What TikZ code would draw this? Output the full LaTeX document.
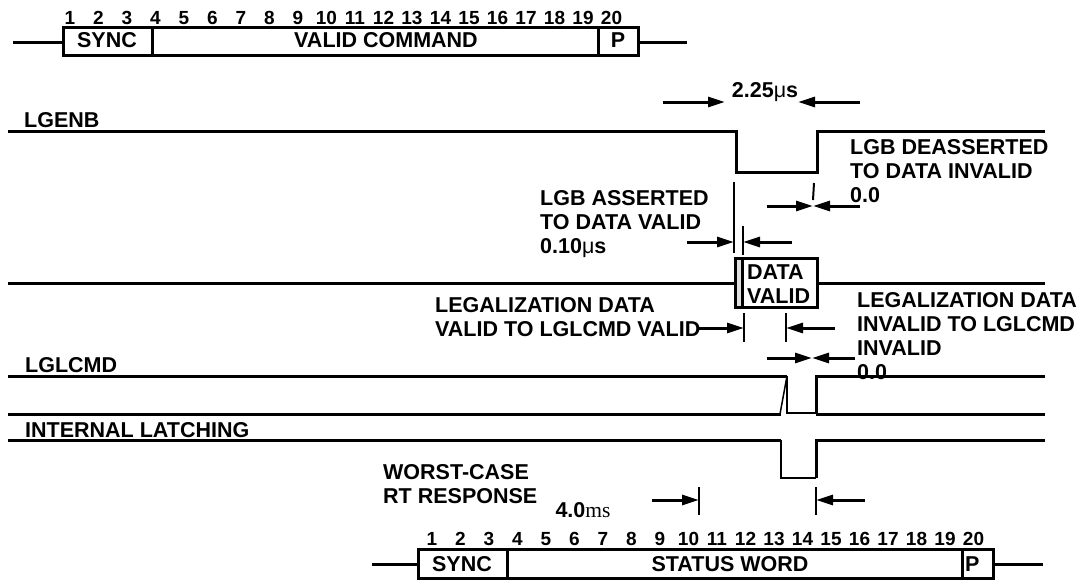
\documentclass[tikz,border=0pt]{standalone}
\usepackage{fontspec}
\setmainfont{Liberation Sans}
\newfontfamily\timesfont{Liberation Serif}
\usetikzlibrary{arrows.meta}
\tikzset{
  sig/.style={line width=3pt},
  thinsig/.style={line width=1.5pt},
  dimarr/.style={line width=3pt,-{Triangle[length=17pt,width=10pt]}},
  lbl/.style={font=\bfseries\fontsize{21.5}{24}\selectfont, inner sep=0pt},
  mlbl/.style={lbl, align=left, anchor=north west},
  bitno/.style={font=\bfseries\fontsize{19}{20}\selectfont, inner sep=0pt, anchor=base}
}
\begin{document}
\begin{tikzpicture}[x=1pt,y=-1pt]
\useasboundingbox (0,0) rectangle (1088,582);
\foreach \i in {1,...,20}
  \node[bitno] (cw\i) at ({70+28.5*(\i-1)},24) {\i};
\draw [sig] (63,27) rectangle (638,55);
\draw [sig] (152,27) -- (152,55);
\draw [sig] (598,27) -- (598,55);
\draw [sig] (13,42) -- (63,42);
\draw [sig] (638,42) -- (687,42);
\node[lbl] (cwsync) at (107,40) {SYNC};
\node[lbl] (cwcmd) at (386,40) {VALID COMMAND};
\node[lbl] (cwp) at (618,40) {P};
\node[lbl, anchor=base] (tdur) at (765,97) {2.25\mdseries μ\bfseries s};
\coordinate (d1) at (663,102); \coordinate (d2) at (725,102);
\coordinate (d3) at (860,102); \coordinate (d4) at (798,102);
\draw [dimarr] (d1) -- (d2);
\draw [dimarr] (d3) -- (d4);
\node[lbl, anchor=base west] (lgenb) at (24,127) {LGENB};
\draw [sig] (8,131) -- (736,131) -- (736,172) -- (817,172) -- (817,131) -- (1045,131);
\node[mlbl] (tdeas) at (850,139.5) {LGB DEASSERTED\\TO DATA INVALID\\0.0};
\draw [line width=2pt] (814,183) -- (813,200);
\coordinate (e1) at (767,206); \coordinate (e2) at (813,206); \coordinate (e3) at (860,206);
\draw [dimarr] (e1) -- (e2);
\draw [dimarr] (e3) -- (e2);
\node[mlbl] (tasrt) at (540,190.5) {LGB ASSERTED\\TO DATA VALID\\0.10\mdseries μ\bfseries s};
\draw [thinsig] (734,182) -- (734,253);
\draw [thinsig] (743,226) -- (743,255);
\coordinate (a1) at (687,242); \coordinate (a2) at (734,242);
\coordinate (a3) at (792,242); \coordinate (a4) at (743,242);
\draw [dimarr] (a1) -- (a2);
\draw [dimarr] (a3) -- (a4);
\fill [gray!25] (735,258) rectangle (742,307);
\draw [sig] (735,258) rectangle (817,307);
\draw [sig] (742,258) -- (742,307);
\draw [sig] (8,283) -- (735,283);
\draw [sig] (817,283) -- (1045,283);
\node[mlbl] (dvalid) at (747,264.5) {DATA\\VALID};
\node[mlbl] (tlvld) at (435,297.5) {LEGALIZATION DATA\\VALID TO LGLCMD VALID};
\draw [line width=2.5pt] (744,313) -- (744,342);
\draw [line width=2.5pt] (786,313) -- (786,342);
\coordinate (v1) at (697,328); \coordinate (v2) at (744,328);
\coordinate (v3) at (835,328); \coordinate (v4) at (786,328);
\draw [dimarr] (v1) -- (v2);
\draw [dimarr] (v3) -- (v4);
\node[mlbl] (tlinv) at (857,292.5) {LEGALIZATION DATA\\INVALID TO LGLCMD\\INVALID\\0.0};
\coordinate (i1) at (767,358); \coordinate (i2) at (812,358); \coordinate (i3) at (855,358);
\draw [dimarr] (i1) -- (i2);
\draw [dimarr] (i3) -- (i2);
\node[lbl, anchor=base west] (lglcmd) at (25,372) {LGLCMD};
\draw [sig] (8,376) -- (787,376);
\draw [thinsig] (787,376) -- (780,414);
\draw [thinsig] (787,376) -- (787,413) -- (816,413);
\draw [sig] (816,413) -- (816,376) -- (1045,376);
\draw [sig] (8,414) -- (781,414);
\draw [sig] (816,414) -- (1045,414);
\node[lbl, anchor=base west] (latch) at (25,437) {INTERNAL LATCHING};
\draw [sig] (8,440) -- (781,440);
\draw [thinsig] (781,440) -- (781,478) -- (816,478);
\draw [sig] (816,478) -- (816,440) -- (1045,440);
\node[mlbl] (twc) at (383,464.5) {WORST-CASE\\RT RESPONSE};
\node[lbl, anchor=base] (twcv) at (583,517) {4.0{\timesfont\mdseries ms}};
\draw [line width=2.5pt] (699,487) -- (699,515);
\draw [line width=2.5pt] (816,487) -- (816,515);
\coordinate (w1) at (652,500); \coordinate (w2) at (699,500);
\coordinate (w3) at (865,500); \coordinate (w4) at (816,500);
\draw [dimarr] (w1) -- (w2);
\draw [dimarr] (w3) -- (w4);
\foreach \i in {1,...,20}
  \node[bitno] (sw\i) at ({432+28.5*(\i-1)},545) {\i};
\draw [sig] (418,549) rectangle (993,578);
\draw [sig] (507,549) -- (507,578);
\draw [sig] (962,549) -- (962,578);
\draw [sig] (372,564) -- (418,564);
\draw [sig] (993,564) -- (1043,564);
\node[lbl] (swsync) at (462,564) {SYNC};
\node[lbl] (swword) at (730,564) {STATUS WORD};
\node[lbl, anchor=west] (swp) at (965,564) {P};
\end{tikzpicture}
\end{document}
